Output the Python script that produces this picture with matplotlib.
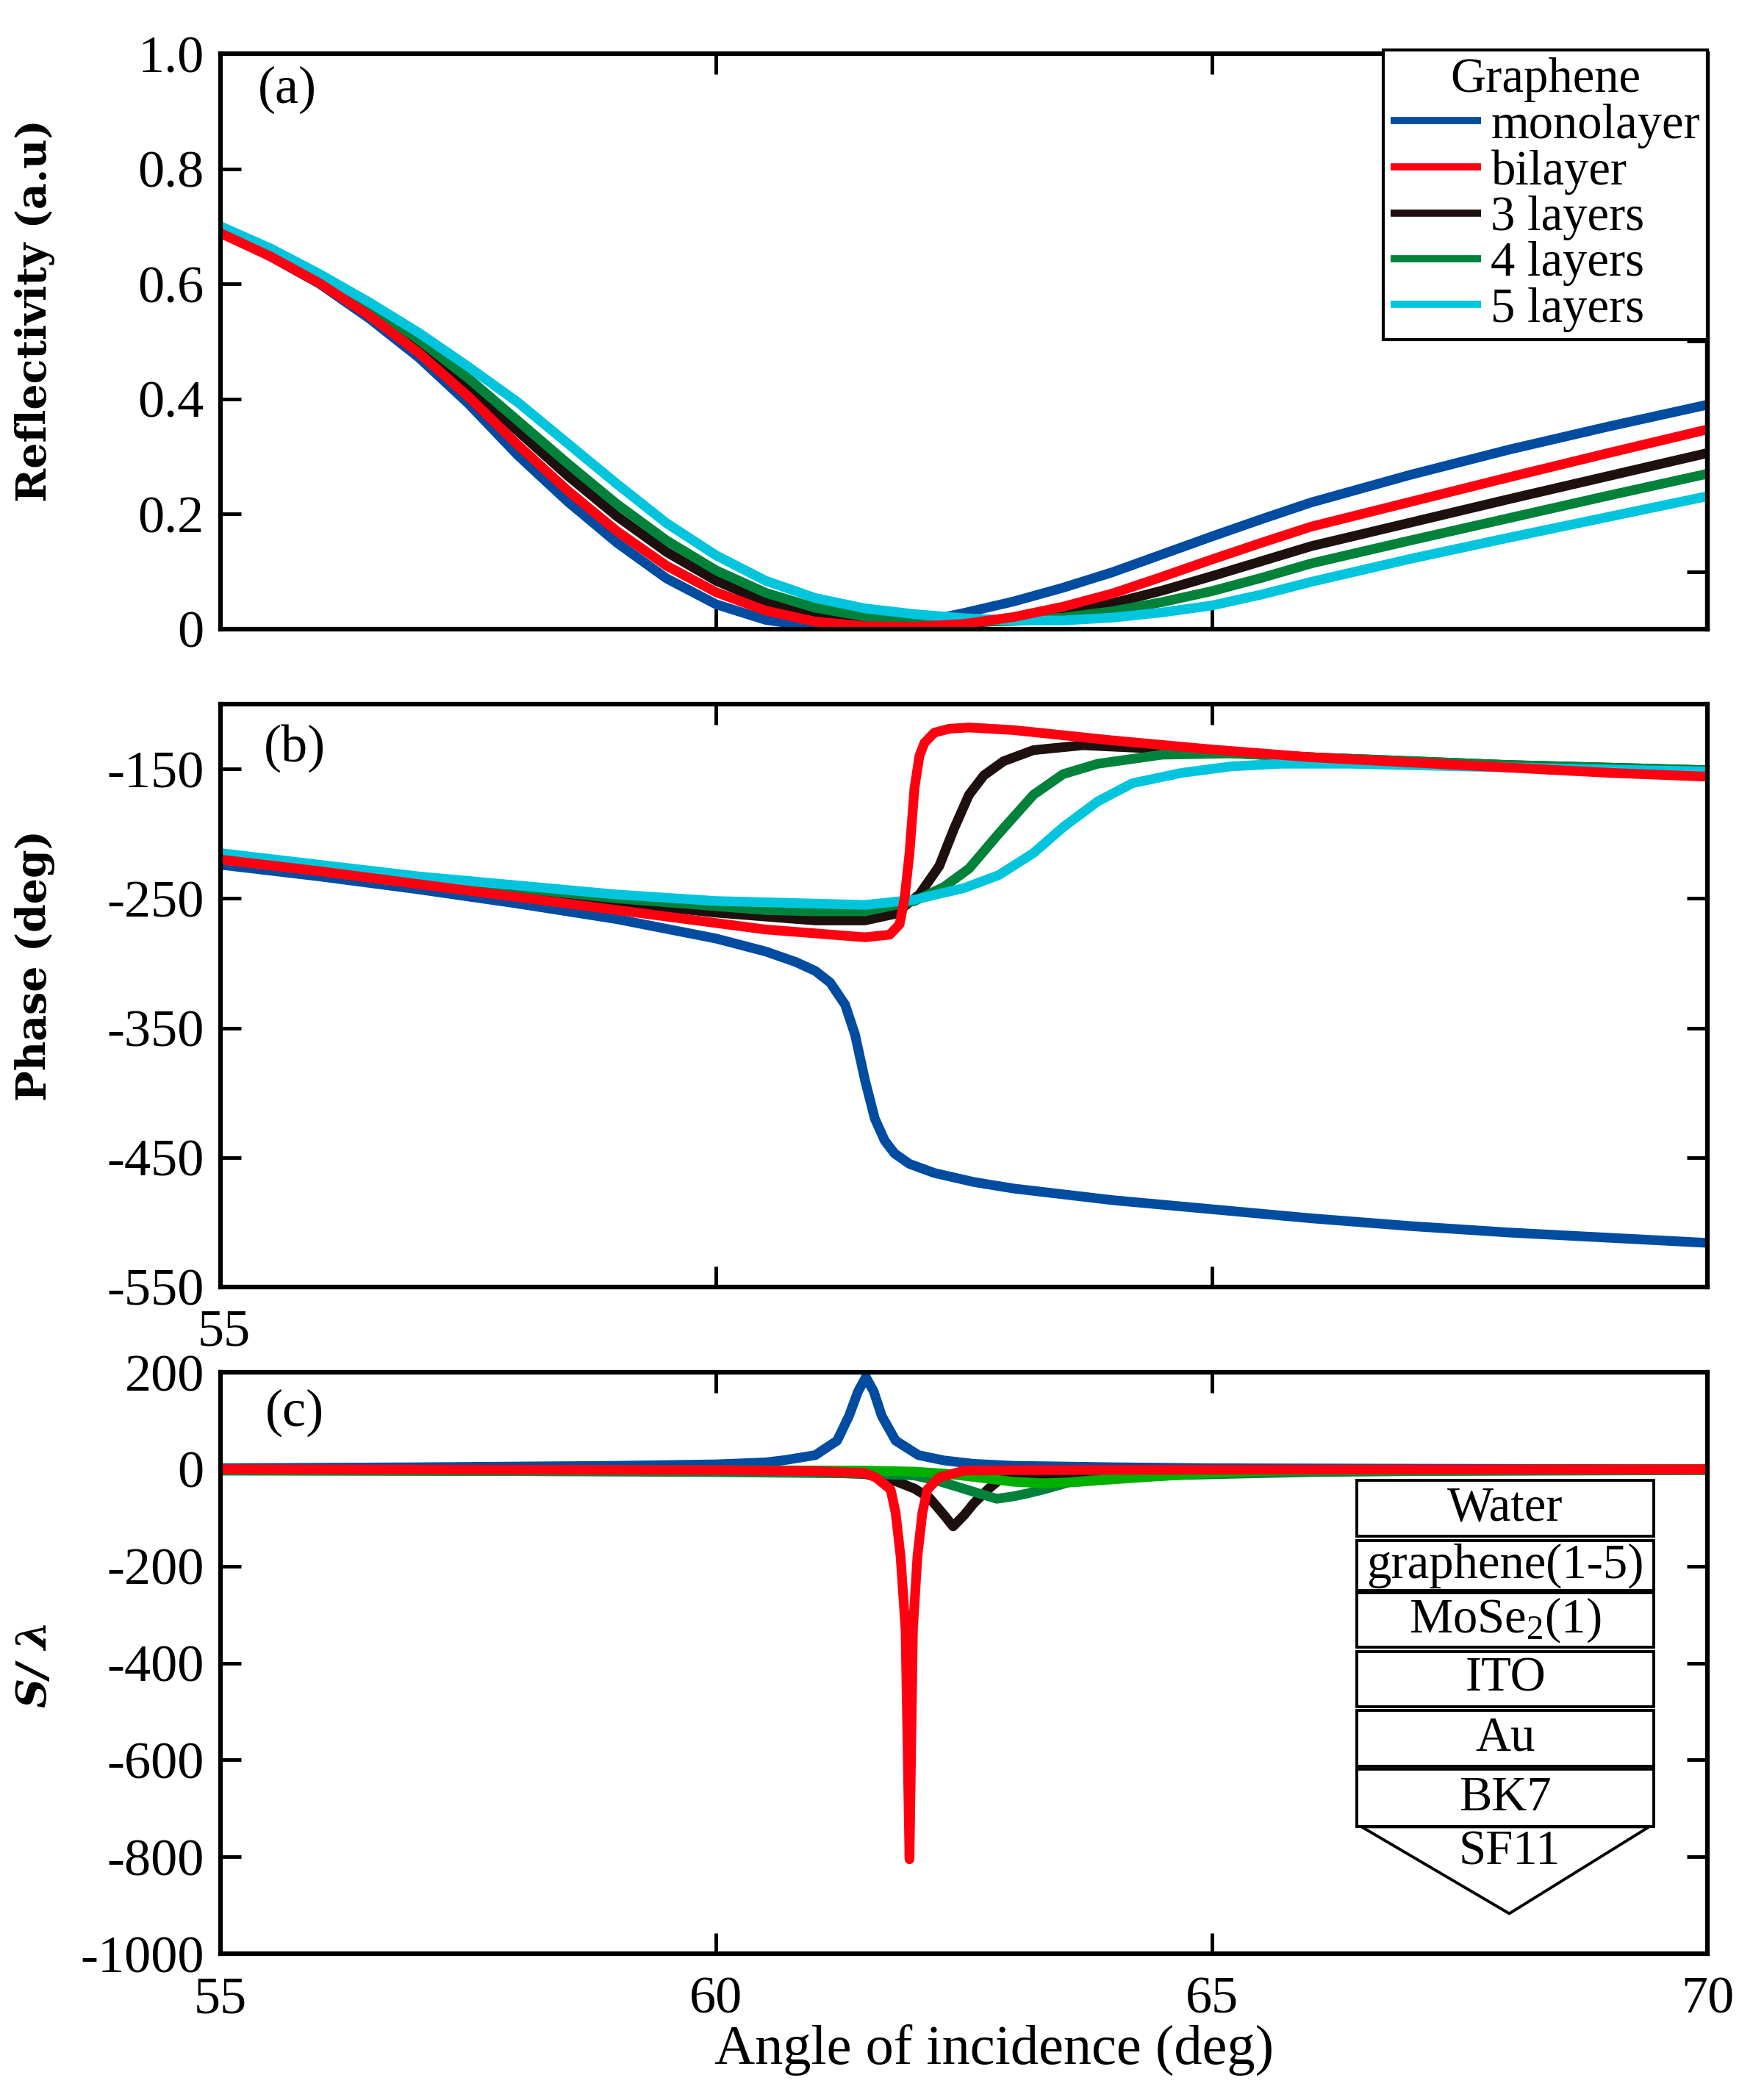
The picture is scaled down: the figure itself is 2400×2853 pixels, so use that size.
import numpy as np
import matplotlib
matplotlib.use('Agg')
import matplotlib.pyplot as plt
from matplotlib.patches import Rectangle, Polygon

plt.rcParams['font.family'] = ['Liberation Serif', 'DejaVu Serif']
plt.rcParams['mathtext.fontset'] = 'custom'
plt.rcParams['mathtext.rm'] = 'Liberation Serif'
plt.rcParams['mathtext.it'] = 'Liberation Serif:italic'

# ---- (a) reflectivity ----
ang_a = [55, 55.5, 56, 56.5, 57, 57.5, 58, 58.5, 59, 59.5, 60, 60.5, 61, 61.5,
         62, 62.5, 63, 63.5, 64, 64.5, 65, 65.5, 66, 67, 68, 69, 70]
refl_mono = [0.690, 0.648, 0.600, 0.540, 0.472, 0.392, 0.302, 0.222, 0.150, 0.088, 0.043, 0.016, 0.004, 0.002,
             0.010, 0.028, 0.048, 0.072, 0.099, 0.130, 0.161, 0.191, 0.220, 0.268, 0.312, 0.352, 0.390]
refl_bi = [0.688, 0.648, 0.601, 0.545, 0.480, 0.404, 0.320, 0.241, 0.170, 0.110, 0.064, 0.032, 0.013, 0.005,
           0.004, 0.009, 0.021, 0.039, 0.062, 0.091, 0.121, 0.150, 0.178, 0.221, 0.264, 0.306, 0.347]
refl_3 = [0.692, 0.654, 0.608, 0.554, 0.493, 0.422, 0.344, 0.267, 0.196, 0.134, 0.084, 0.047, 0.024, 0.013,
          0.009, 0.010, 0.016, 0.028, 0.045, 0.067, 0.092, 0.118, 0.144, 0.185, 0.226, 0.266, 0.306]
refl_4 = [0.695, 0.658, 0.614, 0.562, 0.503, 0.436, 0.362, 0.288, 0.217, 0.154, 0.102, 0.063, 0.037, 0.022,
          0.015, 0.013, 0.014, 0.020, 0.031, 0.047, 0.066, 0.089, 0.114, 0.154, 0.193, 0.232, 0.270]
refl_5 = [0.700, 0.662, 0.617, 0.568, 0.515, 0.456, 0.394, 0.323, 0.252, 0.184, 0.128, 0.084, 0.054, 0.036,
          0.026, 0.019, 0.015, 0.015, 0.020, 0.029, 0.041, 0.060, 0.082, 0.122, 0.159, 0.195, 0.231]

# ---- (b) phase ----
ang_b_mono = [55, 56, 57, 58, 59, 60, 60.5, 60.8, 61.0, 61.15, 61.3, 61.4, 61.5, 61.6, 61.7, 61.8,
              61.95, 62.2, 62.6, 63, 64, 65, 66, 67, 68, 69, 70]
phase_mono = [-224, -233, -243, -254, -266, -281, -291, -299, -306, -315, -332, -355, -390, -420, -437, -447,
              -455, -462, -469, -474, -483, -490, -497, -503, -508, -512, -516]
ang_b_bi = [55, 56, 57, 58, 59, 60, 60.5, 61, 61.5, 61.75, 61.85, 61.9, 61.95, 62.0, 62.05, 62.1, 62.2,
            62.35, 62.55, 63, 63.5, 64, 65, 66, 67, 68, 69, 70]
phase_bi = [-220, -229, -239, -249, -259, -269, -274, -277, -280, -278, -270, -250, -215, -165, -140, -130, -122,
            -119, -118, -120, -124, -128, -135, -141, -145, -149, -153, -156]
ang_b_3 = [55, 56, 57, 58, 59, 60, 60.5, 61, 61.5, 61.8, 62.05, 62.25, 62.4, 62.55, 62.7, 62.9, 63.2,
           63.7, 64.2, 65, 66, 67, 68, 69, 70]
phase_3 = [-217, -226, -235, -244, -253, -261, -264, -267, -267, -262, -247, -225, -196, -170, -155, -144, -135.5,
           -131.7, -133.5, -137, -141, -144, -147, -149, -151]
ang_b_4 = [55, 56, 57, 58, 59, 60, 60.5, 61, 61.5, 62.0, 62.3, 62.55, 62.85, 63.2, 63.5, 63.85, 64.5,
           65.2, 66, 67, 68, 69, 70]
phase_4 = [-216, -225, -234, -242, -250, -256, -259, -260, -260, -252, -241, -227, -200, -170, -154, -146, -139,
           -138, -141, -144, -147, -149, -151]
ang_b_5 = [55, 56, 57, 58, 59, 60, 60.5, 61, 61.5, 62.0, 62.5, 62.85, 63.2, 63.5, 63.85, 64.2, 64.7,
           65.2, 65.7, 66.4, 67.5, 68.7, 70]
phase_5 = [-215, -224, -233, -240, -247, -252, -253, -254, -255, -251, -242, -232, -215, -195, -175, -161, -153,
           -148, -146, -146, -148, -150, -152]

# ---- (c) sensitivity ----
ang_c_mono = [55, 57, 59, 60, 60.5, 60.7, 61.0, 61.22, 61.34, 61.43, 61.51, 61.59, 61.67, 61.81, 62.04,
              62.3, 62.6, 63, 64, 65, 67, 70]
sens_mono = [2, 4, 7, 10, 14, 19, 29, 59, 110, 160, 190, 160, 110, 59, 29,
             18, 11, 7, 4, 2, 1, 0]
ang_c_bi = [55, 58, 60, 61, 61.5, 61.61, 61.76, 61.81, 61.86, 61.91, 61.95, 61.985, 62.03, 62.08, 62.13,
            62.25, 62.5, 63, 65, 70]
sens_bi = [0, -1, -2, -4, -8, -17, -42, -90, -180, -330, -805, -330, -180, -90, -42,
           -17, -3, -2, -1, 0]
ang_c_3 = [55, 58, 60, 61, 61.5, 61.8, 62.0, 62.15, 62.3, 62.39, 62.5, 62.6, 62.75, 62.88, 63.0,
           63.2, 63.45, 63.7, 64, 65, 70]
sens_3 = [-2, -3, -4, -6, -10, -24, -40, -59, -95, -118, -95, -70, -40, -18, -16,
          -15, -13, -8, -4, -2, -1]
ang_c_4 = [55, 58, 60, 61, 61.5, 62.0, 62.2, 62.43, 62.65, 62.83, 63.0, 63.14, 63.3, 63.56, 64.1,
           64.7, 65.3, 66, 67, 70]
sens_4 = [-3, -4, -6, -8, -9, -13, -22, -36, -50, -61, -56, -50, -42, -27, -17,
          -12, -9, -6, -4, -2]
ang_c_5 = [55, 60, 61.5, 62.0, 62.3, 62.6, 63.0, 63.3, 63.6, 64.0, 64.5, 65.0, 65.5, 66, 70]
sens_5 = [-1, -2, -3, -5, -9, -16, -26, -29, -27, -21, -14, -8, -4, -2, 0]

labels = ['monolayer', 'bilayer', '3 layers', '4 layers', '5 layers']
stack_labels = ['Water', 'graphene(1-5)', 'MoSe$_2$(1)', 'ITO', 'Au', 'BK7']
prism_label = 'SF11'

C_BLUE = '#004CA0'
C_RED = '#FF0010'
C_BLACK = '#1E100E'
C_GREEN = '#00823A'
C_CYAN = '#00C5DD'
C_LIME = '#00B000'

LW = 9.5
TICK_FS = 52
YLAB = dict(family='DejaVu Serif', fontsize=40, fontweight='bold')


def style_axis(ax):
    for s in ax.spines.values():
        s.set_linewidth(4.5)
    ax.set_xlim(55, 70)
    ax.set_xticks([55, 60, 65, 70])
    ax.tick_params(direction='in', length=20, width=3.5, top=True, right=True,
                   labelsize=TICK_FS, pad=16)
    ax.tick_params(axis='x', pad=22)


def draw(ax, x, y, color, **kw):
    return ax.plot(x, y, color=color, lw=LW, solid_joinstyle='round',
                   solid_capstyle='butt', **kw)[0]


fig = plt.figure(figsize=(24, 28.53), dpi=100)
ax_a = fig.add_axes([0.125, 0.700, 0.843, 0.2744])
ax_b = fig.add_axes([0.125, 0.3863, 0.843, 0.2779])
ax_c = fig.add_axes([0.125, 0.0683, 0.843, 0.2773])

# (a)
ln_mono = draw(ax_a, ang_a, refl_mono, C_BLUE)
ln_3 = draw(ax_a, ang_a, refl_3, C_BLACK)
ln_4 = draw(ax_a, ang_a, refl_4, C_GREEN)
ln_5 = draw(ax_a, ang_a, refl_5, C_CYAN)
ln_bi = draw(ax_a, ang_a, refl_bi, C_RED)
style_axis(ax_a)
ax_a.set_ylim(0, 1.0)
ax_a.set_yticks([0, 0.2, 0.4, 0.6, 0.8, 1.0])
ax_a.set_yticklabels(['0', '0.2', '0.4', '0.6', '0.8', '1.0'])
ax_a.tick_params(labelbottom=False, right=False)
sec = ax_a.secondary_yaxis('right')
sec.set_yticks([0.1, 0.3, 0.5, 0.7, 0.9])
sec.tick_params(direction='in', length=20, width=3.5, labelright=False)
sec.spines['right'].set_linewidth(4.5)
ax_a.set_ylabel('Reflectivity (a.u)', **YLAB)
ax_a.yaxis.set_label_coords(-0.111, 0.554)
ax_a.text(0.045, 0.937, '(a)', transform=ax_a.transAxes, fontsize=TICK_FS,
          ha='center', va='center')
leg = ax_a.legend([ln_mono, ln_bi, ln_3, ln_4, ln_5], labels, title='Graphene',
                  loc='upper right', bbox_to_anchor=(1.0, 1.006), borderaxespad=0,
                  fontsize=48, title_fontsize=48, labelspacing=0.02, handlelength=1.85,
                  handletextpad=0.2, borderpad=0.15, fancybox=False, framealpha=1,
                  edgecolor='black')
leg.get_frame().set_linewidth(3)
leg.set_zorder(10)
for h in leg.legend_handles:
    h.set_linewidth(7)

# (b)
draw(ax_b, ang_b_mono, phase_mono, C_BLUE)
draw(ax_b, ang_b_3, phase_3, C_BLACK)
draw(ax_b, ang_b_4, phase_4, C_GREEN)
draw(ax_b, ang_b_5, phase_5, C_CYAN)
draw(ax_b, ang_b_bi, phase_bi, C_RED)
style_axis(ax_b)
ax_b.set_ylim(-550, -100)
ax_b.set_yticks([-550, -450, -350, -250, -150])
ax_b.set_yticklabels(['-550', '-450', '-350', '-250', '-150'])
ax_b.tick_params(labelbottom=False)
ax_b.set_ylabel('Phase (deg)', **YLAB)
ax_b.yaxis.set_label_coords(-0.111, 0.552)
ax_b.text(0.05, 0.924, '(b)', transform=ax_b.transAxes, fontsize=TICK_FS,
          ha='center', va='center')
fig.text(305 / 2400, 1 - 1813 / 2853, '55', fontsize=TICK_FS, ha='center', va='center')

# (c)
draw(ax_c, ang_c_mono, sens_mono, C_BLUE)
draw(ax_c, ang_c_3, sens_3, C_BLACK)
draw(ax_c, ang_c_4, sens_4, C_GREEN)
draw(ax_c, ang_c_5, sens_5, C_LIME)
draw(ax_c, ang_c_bi, sens_bi, C_RED)
style_axis(ax_c)
ax_c.set_ylim(-1000, 200)
ax_c.set_yticks([-1000, -800, -600, -400, -200, 0, 200])
ax_c.set_yticklabels(['-1000', '-800', '-600', '-400', '-200', '0', '200'])
ax_c.set_xticklabels(['55', '60', '65', '70'])
ax_c.set_xlabel('Angle of incidence (deg)', fontsize=55)
ax_c.xaxis.set_label_coords(0.52, -0.122)
ax_c.set_ylabel('S/ \u03bb', style='italic', **YLAB)
ax_c.yaxis.set_label_coords(-0.111, 0.499)
ax_c.text(0.05, 0.93, '(c)', transform=ax_c.transAxes, fontsize=TICK_FS,
          ha='center', va='center')

# layer stack sketch
bx0, bx1 = 66.46, 69.46
bounds = [(-139, -23), (-250, -148), (-368, -255), (-490, -376), (-613, -497), (-738, -619)]
for (lo, hi), name in zip(bounds, stack_labels):
    ax_c.add_patch(Rectangle((bx0, lo), bx1 - bx0, hi - lo, facecolor='white',
                             edgecolor='black', lw=2.8, zorder=5))
    ax_c.text((bx0 + bx1) / 2, (lo + hi) / 2, name, fontsize=48, ha='center',
              va='center', zorder=6)
ax_c.add_patch(Polygon([(bx0 + 0.05, -738), (bx1 - 0.05, -738), (68.0, -917)], closed=True,
                       facecolor='white', edgecolor='black', lw=2.8, zorder=5))
ax_c.text(68.0, -790, prism_label, fontsize=48, ha='center', va='center', zorder=6)

fig.savefig('out.png', dpi=100)
